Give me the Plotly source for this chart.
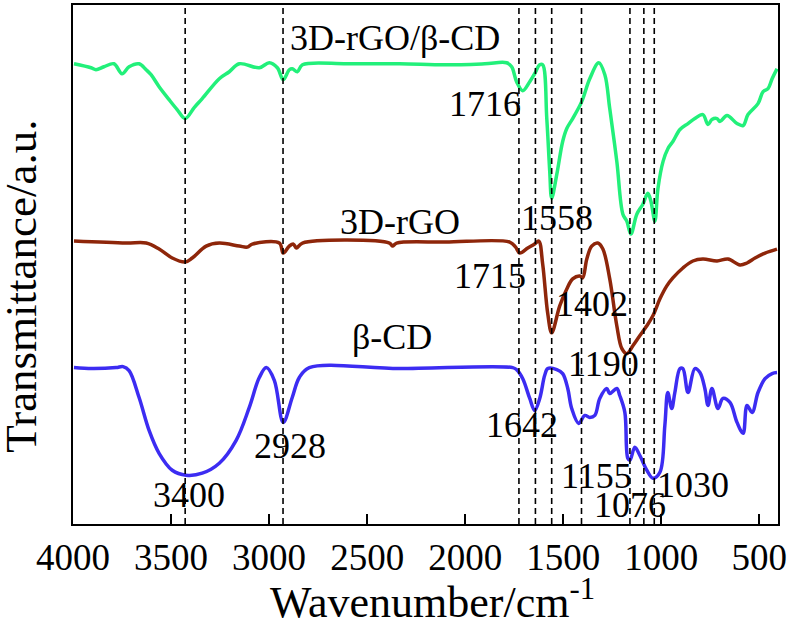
import plotly.graph_objects as go

# ---- data (wavenumber in cm^-1, transmittance in arbitrary units, offset spectra) ----
green_wn = [3995, 3908, 3883, 3842, 3791, 3750, 3714, 3663, 3627, 3602, 3561, 3510, 3469, 3428,
            3382, 3341, 3254, 3203, 3152, 3050, 2999, 2958, 2928, 2897, 2882, 2856, 2830, 2600,
            2335, 2100, 1900, 1789, 1763, 1738, 1707, 1671, 1646, 1620, 1605, 1584, 1569, 1559,
            1533, 1503, 1482, 1452, 1406, 1365, 1319, 1288, 1263, 1227, 1196, 1176, 1155, 1125,
            1094, 1069, 1053, 1033, 1017, 991, 966, 941, 905, 864, 829, 788, 762, 742, 716, 701,
            665, 614, 583, 558, 507, 481, 456, 435, 410]
green_t = [462, 458, 456, 459, 462, 452, 459, 462, 456, 451, 439, 426, 416, 407,
           418, 427, 447, 454, 462, 458, 463, 458, 446, 456, 457, 454, 461, 462,
           462, 461, 462, 463, 459, 444, 435, 444, 452, 461, 461, 407, 354, 327,
           351, 384, 397, 407, 424, 447, 463, 451, 417, 364, 311, 304, 291, 311,
           321, 332, 324, 304, 337, 364, 377, 384, 396, 402, 407, 411, 401, 406, 407, 404,
           410, 402, 400, 411, 422, 434, 437, 447, 457]

brown_wn = [3995, 3729, 3627, 3561, 3494, 3428, 3392, 3321, 3254, 3152, 3111, 3086, 2948, 2928,
            2897, 2876, 2861, 2830, 2386, 2371, 2350, 2100, 1773, 1743, 1722, 1681, 1646, 1625,
            1605, 1579, 1559, 1518, 1482, 1452, 1416, 1401, 1380, 1355, 1324, 1298, 1263, 1227,
            1201, 1176, 1145, 1110, 1074, 1043, 1007, 972, 941, 890, 839, 788, 716, 660, 599,
            563, 522, 471, 410]
brown_t = [284, 282, 282, 276, 267, 263, 267, 279, 282, 279, 278, 281, 282, 272,
           279, 281, 277, 282, 282, 279, 282, 283, 283, 278, 272, 277, 281, 284,
           261, 211, 192, 219, 236, 246, 249, 247, 266, 279, 282, 276, 246, 199,
           176, 171, 179, 189, 199, 209, 226, 239, 247, 257, 264, 266, 264, 266, 260,
           262, 267, 272, 276]

blue_wn = [3995, 3903, 3780, 3745, 3714, 3663, 3612, 3561, 3494, 3423, 3341, 3254, 3168, 3101,
           3050, 3014, 2973, 2928, 2882, 2846, 2795, 2335, 1758, 1738, 1707, 1671, 1646, 1620,
           1595, 1579, 1533, 1503, 1477, 1457, 1421, 1390, 1365, 1339, 1314, 1278, 1263, 1227,
           1212, 1186, 1171, 1160, 1135, 1110, 1074, 1043, 1007, 982, 967, 947, 931, 905, 890,
           864, 829, 803, 778, 762, 742, 711, 686, 650, 614, 583, 563, 537, 507, 471, 435, 410]
blue_t = [157, 156, 157, 158, 154, 127, 94, 71, 54, 49, 51, 61, 84, 117,
          147, 157, 144, 102, 127, 147, 157, 156, 157, 155, 146, 126, 114, 126,
          149, 156, 155, 151, 136, 116, 101, 109, 107, 109, 126, 136, 131, 136,
          129, 112, 66, 64, 77, 69, 54, 46, 52, 99, 132, 116, 132, 156, 156,
          132, 156, 152, 136, 119, 136, 116, 126, 122, 102, 91, 119, 112, 132, 146, 151, 152]

ref_lines = [3428, 2929, 1726, 1642, 1559, 1407, 1160, 1089, 1036]

x_ticks = [4000, 3500, 3000, 2500, 2000, 1500, 1000, 500]

# labels: (text, wavenumber, a.u.)
peak_labels = [("3D-rGO/β-CD", 2356, 488), ("1716", 1901, 422), ("1558", 1533, 307),
               ("3D-rGO", 2335, 303), ("1715", 1875, 249), ("1402", 1355, 221),
               ("1190", 1293, 161), ("β-CD", 2371, 188), ("1642", 1712, 99),
               ("2928", 2892, 78), ("3400", 3408, 29), ("1155", 1329, 48),
               ("1076", 1160, 19), ("1030", 839, 39)]

FONT = "Times New Roman, Liberation Serif, serif"

fig = go.Figure()
for wn, t, col in [(green_wn, green_t, "#22F07A"), (brown_wn, brown_t, "#8E260A"),
                   (blue_wn, blue_t, "#3C2CF2")]:
    fig.add_trace(go.Scatter(x=wn, y=t, mode="lines", line=dict(color=col, width=3.5),
                             line_shape="spline", showlegend=False, hoverinfo="skip"))

for xv in ref_lines:
    fig.add_shape(type="line", xref="x", yref="paper", x0=xv, x1=xv, y0=0, y1=1,
                  line=dict(color="black", width=1.6, dash="6px,4px"), layer="above")

for txt, xv, yv in peak_labels:
    fig.add_annotation(x=xv, y=yv, xref="x", yref="y", text=txt, showarrow=False,
                       font=dict(family=FONT, size=36, color="black"),
                       xanchor="center", yanchor="middle")

fig.add_annotation(xref="paper", yref="paper", x=-0.074, y=0.4587, text="Transmittance/a.u.",
                   textangle=-90, showarrow=False, xanchor="center", yanchor="middle",
                   font=dict(family=FONT, size=45, color="black"))
fig.add_annotation(xref="paper", yref="paper", x=0.5106, y=-0.146, text="Wavenumber/cm<sup>-1</sup>",
                   showarrow=False, xanchor="center", yanchor="middle",
                   font=dict(family=FONT, size=44, color="black"))

fig.update_layout(
    width=792, height=618,
    margin=dict(l=73, r=14, t=3, b=94),
    paper_bgcolor="white", plot_bgcolor="white",
    font=dict(family=FONT, color="black"),
    xaxis=dict(range=[4000, 405], tickvals=x_ticks, ticks="inside", ticklen=10, tickwidth=2,
               tickcolor="black", showline=True, linecolor="black", linewidth=2, mirror=True,
               showgrid=False, zeroline=False, tickfont=dict(family=FONT, size=37, color="black")),
    yaxis=dict(range=[0, 521], showticklabels=False, ticks="", showline=True, linecolor="black",
               linewidth=2, mirror=True, showgrid=False, zeroline=False),
)

fig.write_html("out.html", config={"displayModeBar": False},
               post_script="document.body.style.margin='0';")
